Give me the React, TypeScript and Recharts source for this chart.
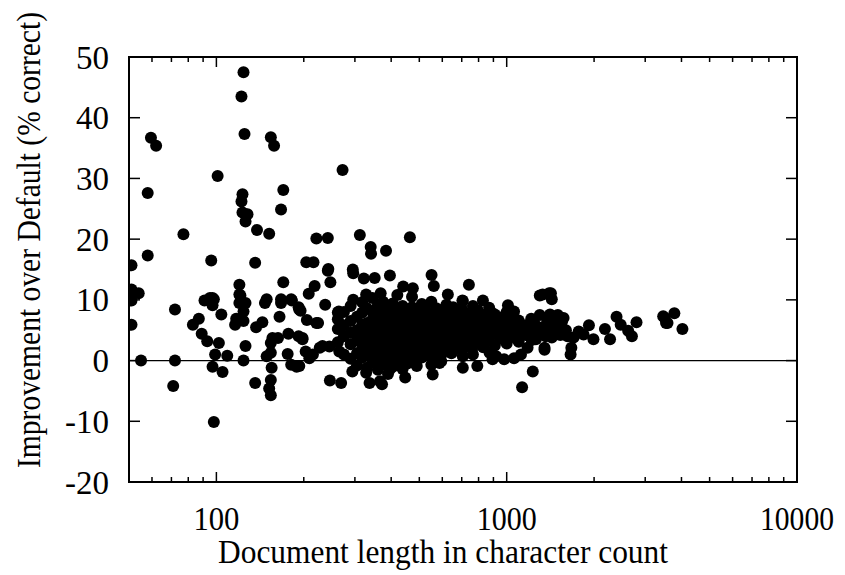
import { ReferenceArea, ReferenceLine, Scatter, ScatterChart, XAxis, YAxis } from "recharts";

// [document length, improvement %]
const outliers: [number, number][] = [
  [124, 47.5], [122, 43.5], [125, 37.3], [59.5, 36.7], [62, 35.4], [154, 36.8], [158, 35.4],
  [101, 30.4], [58, 27.6], [123, 27.4], [122, 26.2], [170, 28.1], [167, 24.9], [123, 24.4],
  [128, 24.1], [126, 22.9], [138, 21.5], [152, 20.9], [77, 20.8], [221, 20.1], [242, 20.2],
  [272, 31.4], [312, 20.7], [464, 20.3], [340, 18.7], [341, 17.6], [384, 18.1], [204, 16.2],
  [216, 16.2], [243, 15.1], [295, 15.0], [58, 17.3], [51, 15.7], [96, 16.5], [136, 16.1],
  [170, 12.9], [218, 12.3], [120, 12.5], [120, 10.9], [208, 11.0], [242, 14.8], [296, 14.4],
  [322, 13.5], [351, 13.6], [396, 14.0], [551, 14.1], [561, 12.3], [741, 12.5], [247, 12.9],
  [328, 10.9], [368, 11.1], [440, 12.2], [475, 11.9],
];

const shortDocs: [number, number][] = [
  [51, 11.7], [54, 11.1], [51, 9.9], [95, 10.3], [97, 10.3], [149, 10.1], [167, 10.1], [181, 10.1],
  [121, 10.7], [120, 9.5], [126, 9.5], [91, 9.9], [98, 10.1], [97, 9.1], [147, 9.5], [167, 9.5],
  [182, 9.9], [192, 8.8], [195, 8.2], [72, 8.4], [124, 8.1], [104, 7.6], [165, 7.2], [205, 6.7],
  [87, 6.9], [83, 5.9], [117, 6.9], [116, 5.9], [124, 6.5], [137, 5.5], [144, 6.3], [51, 5.9],
  [221, 6.2], [89, 4.4], [93, 3.2], [102, 2.9], [177, 4.4], [192, 4.0], [198, 3.5], [156, 3.7],
  [163, 3.7], [154, 2.9], [126, 2.4], [203, 1.5], [215, 1.0], [209, 0.4], [227, 2.1], [99, 1.0],
  [109, 0.8], [149, 0.7], [154, 1.3], [176, 1.1], [55, 0], [72, 0], [124, 0], [97, -1.0],
  [105, -1.9], [155, -1.2], [181, -0.7], [189, -1.0], [136, -3.7], [154, -3.2], [152, -4.6],
  [154, -5.7], [71, -4.2], [98, -10.1], [193, 8.4], [198, 3.7], [193, -0.9],
];

const midEdges: [number, number][] = [
  [224, 6.2], [237, 9.2], [262, 7.9], [264, 8.1], [296, 10.0], [232, 2.4], [245, 2.3],
  [265, 1.5], [246, -3.3], [269, -3.7], [337, -3.7], [366, -3.4], [372, -3.9], [447, -2.8],
  [556, -2.3], [706, -1.2], [792, -0.9], [873, 1.3], [894, 0.2], [294, -1.8], [328, -2.0],
  [395, -1.5], [587, -0.4], [765, 1.0], [706, 0.7], [704, 9.9], [828, 9.9], [765, 9.0],
  [654, 8.8], [605, 8.4], [894, 7.8], [932, 6.9], [627, 10.9], [706, 9.8], [1010, 9.1],
  [1060, 8.1], [1215, 6.9], [1230, -1.8], [1130, -4.4], [920, 0.7], [980, 0.2], [1060, 0.4],
  [1120, 1.0], [1180, 2.1], [595, -0.1], [627, 1.8], [706, 2.4], [765, 2.6],
];

const mainCluster: [number, number][] = [
  [262, 3.0], [262, 5.2], [262, 6.8],
  [275, 1.0], [275, 4.0], [275, 5.8], [275, 8.0],
  [290, 0.3], [290, 2.7], [290, 4.6], [290, 6.5], [290, 9.0],
  [305, -0.8], [305, 1.2], [305, 3.3], [305, 5.0], [305, 7.2],
  [318, 0.5], [318, 2.0], [318, 3.8], [318, 5.9], [318, 7.9], [318, 9.6],
  [330, -1.2], [330, 0.9], [330, 2.6], [330, 4.4], [330, 6.2], [330, 8.6],
  [345, -0.3], [345, 1.6], [345, 3.2], [345, 5.0], [345, 6.8], [345, 8.0], [345, 10.3],
  [360, -1.5], [360, 0.6], [360, 2.3], [360, 4.0], [360, 5.6], [360, 7.3], [360, 9.1],
  [375, -0.6], [375, 1.3], [375, 3.0], [375, 4.7], [375, 6.1], [375, 7.9], [375, 9.7],
  [390, -2.2], [390, 0.2], [390, 2.0], [390, 3.6], [390, 5.3], [390, 6.9], [390, 8.4],
  [405, -1.0], [405, 0.9], [405, 2.7], [405, 4.3], [405, 5.9], [405, 7.5], [405, 9.4],
  [420, 0.0], [420, 1.8], [420, 3.4], [420, 5.0], [420, 6.6], [420, 8.1], [420, 10.8],
  [438, -1.4], [438, 0.8], [438, 2.5], [438, 4.1], [438, 5.7], [438, 7.3], [438, 9.0],
  [455, -0.5], [455, 1.5], [455, 3.2], [455, 4.8], [455, 6.4], [455, 8.2],
  [472, 0.3], [472, 2.1], [472, 3.9], [472, 5.5], [472, 7.0], [472, 8.8], [472, 10.5],
  [490, -0.9], [490, 1.2], [490, 2.9], [490, 4.6], [490, 6.2], [490, 7.8],
  [510, 0.5], [510, 2.4], [510, 4.0], [510, 5.7], [510, 7.4], [510, 9.3],
  [530, 1.4], [530, 3.3], [530, 5.0], [530, 6.6], [530, 8.1],
  [550, -0.7], [550, 0.6], [550, 2.6], [550, 4.3], [550, 6.0], [550, 7.7], [550, 9.7],
  [572, 1.9], [572, 3.6], [572, 5.3], [572, 7.0], [572, 8.6],
  [595, 0.9], [595, 2.8], [595, 4.6], [595, 6.3], [595, 7.9],
  [620, 2.0], [620, 3.9], [620, 5.6], [620, 7.3], [620, 9.2],
  [645, 1.2], [645, 3.1], [645, 4.8], [645, 6.5], [645, 8.0],
  [670, 2.4], [670, 4.2], [670, 5.9], [670, 7.6],
  [700, 1.6], [700, 3.4], [700, 5.2], [700, 6.9], [700, 8.5],
  [730, 2.8], [730, 4.5], [730, 6.2], [730, 7.8],
  [760, 1.9], [760, 3.7], [760, 5.5], [760, 7.2],
  [795, 3.0], [795, 4.8], [795, 6.5], [795, 8.3],
  [830, 2.2], [830, 4.0], [830, 5.8], [830, 7.5],
  [870, 3.3], [870, 5.1], [870, 6.8], [870, 8.7],
  [910, 2.5], [910, 4.4], [910, 6.1], [910, 7.6],
  [950, 3.6], [950, 5.3], [950, 7.1],
  [1000, 2.8], [1000, 4.6], [1000, 6.4], [1000, 8.0],
  [1050, 3.9], [1050, 5.6], [1050, 7.2],
  [1100, 3.1], [1100, 4.9], [1100, 6.6],
  [1160, 4.2], [1160, 5.8],
  [1220, 3.4], [1220, 5.1], [1220, 6.2],
];

const longDocs: [number, number][] = [
  [1330, 10.9], [1420, 11.1], [1430, 10.1], [1300, 10.7], [1400, 11.1], [1410, 7.6], [1570, 7.0],
  [1670, 2.1], [1660, 1.0], [1350, 1.8], [1350, 2.1], [1770, 4.8], [1920, 5.8], [1990, 3.5],
  [1840, 4.3], [2270, 3.5], [2180, 5.2], [2390, 7.2], [2470, 5.9], [2620, 4.9], [2700, 4.0],
  [2800, 6.3], [3460, 7.3], [3540, 6.2], [3500, 7.0], [3780, 7.8], [3580, 6.2], [4030, 5.2],
  [1250, 6.0], [1290, 4.5], [1300, 7.5], [1330, 5.5], [1360, 4.0], [1380, 6.5], [1400, 5.0],
  [1430, 3.8], [1450, 6.0], [1480, 4.6], [1500, 5.5], [1530, 4.2], [1550, 6.4], [1600, 5.0],
  [1620, 4.0], [1700, 3.8], [1500, 7.5], [1260, 3.5], [1240, 4.8],
];

const xMajor = [100, 1000, 10000];
const xMinor = [60, 70, 80, 90, 200, 300, 400, 500, 600, 700, 800, 900, 2000, 3000, 4000, 5000, 6000, 7000, 8000, 9000];
const yTicks = [-20, -10, 0, 10, 20, 30, 40, 50];

const points = [...outliers, ...shortDocs, ...midEdges, ...mainCluster, ...longDocs].map(([len, gain]) => ({ len, gain }));

const FONT = "'Liberation Serif', 'Times New Roman', serif";
const SIZE = 33;
const PLOT = { left: 129, right: 797, top: 57, bottom: 482 };

function XTick({ x, payload }: any) {
  const major = xMajor.includes(payload.value);
  const len = major ? 10 : 5;
  return (
    <g>
      <line x1={x} x2={x} y1={PLOT.bottom} y2={PLOT.bottom - len} stroke='#000' strokeWidth={1.5} />
      <line x1={x} x2={x} y1={PLOT.top} y2={PLOT.top + len} stroke='#000' strokeWidth={1.5} />
      {major && (
        <text
          x={x}
          y={PLOT.bottom + 48}
          textAnchor='middle'
          fontFamily={FONT}
          fontSize={SIZE}
          fill='#000'
          textLength={payload.value === 10000 ? 74 : payload.value === 1000 ? 60 : 46}
          lengthAdjust='spacingAndGlyphs'
        >
          {payload.value}
        </text>
      )}
    </g>
  );
}

function YTick({ y, payload }: any) {
  return (
    <g>
      <line x1={PLOT.left} x2={PLOT.left + 11} y1={y} y2={y} stroke='#000' strokeWidth={1.5} />
      <line x1={PLOT.right} x2={PLOT.right - 11} y1={y} y2={y} stroke='#000' strokeWidth={1.5} />
      <text x={PLOT.left - 20} y={y} dy='0.35em' textAnchor='end' fontFamily={FONT} fontSize={SIZE} fill='#000'>
        {payload.value}
      </text>
    </g>
  );
}

const Dot = ({ cx, cy }: any) => <circle cx={cx} cy={cy} r={6} fill='#000' />;

export default function App() {
  return (
    <div style={{ position: "absolute", left: 0, top: 0, width: 845, height: 575, background: "#fff" }}>
      <ScatterChart width={845} height={575} margin={{ top: PLOT.top, right: 845 - PLOT.right, bottom: 53, left: 0 }}>
        <XAxis
          dataKey='len'
          type='number'
          scale='log'
          domain={[50, 10000]}
          allowDataOverflow
          ticks={[...xMinor, ...xMajor]}
          interval={0}
          height={40}
          tickLine={false}
          axisLine={false}
          tick={<XTick />}
          label={() => (
            <text
              x={443}
              y={563}
              textAnchor='middle'
              fontFamily={FONT}
              fontSize={SIZE}
              fill='#000'
              textLength={450}
              lengthAdjust='spacingAndGlyphs'
            >
              Document length in character count
            </text>
          )}
        />
        <YAxis
          dataKey='gain'
          type='number'
          domain={[-20, 50]}
          allowDataOverflow
          ticks={yTicks}
          interval={0}
          width={PLOT.left}
          tickLine={false}
          axisLine={false}
          tick={<YTick />}
          label={() => (
            <text
              x={40}
              y={240}
              transform='rotate(-90 40 240)'
              textAnchor='middle'
              fontFamily={FONT}
              fontSize={SIZE}
              fill='#000'
              textLength={456}
              lengthAdjust='spacingAndGlyphs'
            >
              Improvement over Default (% correct)
            </text>
          )}
        />
        <ReferenceLine y={0} stroke='#000' strokeWidth={1.2} />
        <Scatter data={points} shape={<Dot />} isAnimationActive={false} />
        <ReferenceArea x1={50} x2={10000} y1={-20} y2={50} fill='none' stroke='#000' strokeWidth={2} ifOverflow='visible' />
      </ScatterChart>
    </div>
  );
}
